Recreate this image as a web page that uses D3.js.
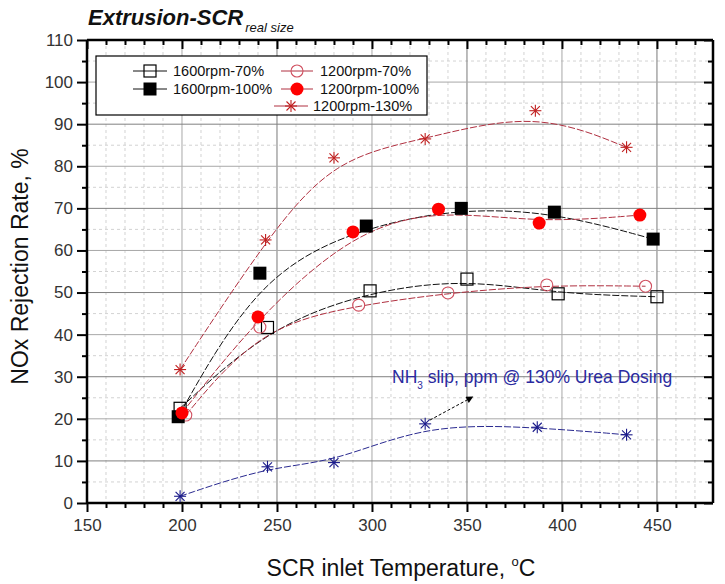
<!DOCTYPE html>
<html><head><meta charset="utf-8">
<script src="https://cdn.jsdelivr.net/npm/d3@7"></script>
<style>
body{margin:0;background:#fff;}
svg{display:block;font-family:Arial,"Liberation Sans",sans-serif;}
</style></head>
<body><svg id="c" width="725" height="584"></svg>
<script>
// ---- data ----
const xTickLabels = [150,200,250,300,350,400,450];
const yTickLabels = [0,10,20,30,40,50,60,70,80,90,100,110];

const t1600_70  = [199,245,299,350,398,450];
const v1600_70  = [22.5,41.7,50.4,53.2,49.7,49.0];
const t1200_70  = [202,241,293,340,392,444];
const v1200_70  = [20.9,41.8,47.0,49.9,51.8,51.5];
const t1600_100 = [198,241,297,347,396,448];
const v1600_100 = [20.5,54.6,65.8,70.0,69.1,62.7];
const t1200_100 = [200,240,290,335,388,441];
const v1200_100 = [21.4,44.2,64.4,69.8,66.5,68.4];
const t1200_130 = [199,244,280,328,386,434];
const v1200_130 = [31.7,62.5,82.0,86.5,93.2,84.5];
const tNH3      = [199,245,280,328,387,434];
const vNH3      = [1.6,8.6,9.6,18.8,18.0,16.2];

const seriesNames = ["1600rpm-70%","1200rpm-70%","1600rpm-100%","1200rpm-100%","1200rpm-130%"];

// ---- setup ----
const svg = d3.select("#c");
const L=87, R=713, T=40, B=503;
const x = d3.scaleLinear().domain([150,479.5]).range([L,R]);
const y = d3.scaleLinear().domain([0,110]).range([B,T]);

// grid
const g = svg.append("g");
d3.range(160,480,10).filter(v=>v%50!==0).forEach(v=>{
  g.append("line").attr("x1",x(v)).attr("x2",x(v)).attr("y1",T).attr("y2",B)
   .attr("stroke","#c8c8c8").attr("stroke-width",0.8).attr("stroke-dasharray","3,3");
});
d3.range(5,110,10).forEach(v=>{
  g.append("line").attr("x1",L).attr("x2",R).attr("y1",y(v)).attr("y2",y(v))
   .attr("stroke","#c8c8c8").attr("stroke-width",0.8).attr("stroke-dasharray","3,3");
});
[200,250,300,350,400,450].forEach(v=>{
  g.append("line").attr("x1",x(v)).attr("x2",x(v)).attr("y1",T).attr("y2",B)
   .attr("stroke", (v%100===50)?"#7a7a7a":"#a8a8a8").attr("stroke-width",1);
});
d3.range(10,110,10).forEach(v=>{
  g.append("line").attr("x1",L).attr("x2",R).attr("y1",y(v)).attr("y2",y(v))
   .attr("stroke", (v%20===10)?"#808080":"#a8a8a8").attr("stroke-width",1);
});

// axes
const tickFont = "17px";
const xAxis = d3.axisBottom(x).tickValues(d3.range(150,480,10)).tickSize(8)
  .tickFormat(d=> xTickLabels.includes(d)? d : "");
const gx = svg.append("g").attr("transform",`translate(0,${B})`).call(xAxis);
gx.selectAll(".tick line").attr("y2",d=>d%50===0?9:5).attr("stroke-width",2);
gx.select(".domain").attr("d",`M${L},0H${R}`).attr("stroke-width",2.5);
gx.selectAll("text").attr("font-size",tickFont).attr("fill","#333").attr("dy","1.0em").attr("font-family","Arial");

const yAxis = d3.axisLeft(y).tickValues(d3.range(0,111,5)).tickSize(9)
  .tickFormat(d=> yTickLabels.includes(d)? d : "");
const gy = svg.append("g").attr("transform",`translate(${L},0)`).call(yAxis);
gy.selectAll(".tick line").attr("x2",d=>d%10===0?-10:-5).attr("stroke-width",2);
gy.select(".domain").attr("d",`M0,${T}V${B}`).attr("stroke-width",2.5);
gy.selectAll("text").attr("font-size",tickFont).attr("fill","#333").attr("x",-14).attr("font-family","Arial");

const gt = svg.append("g").attr("transform",`translate(0,${T})`)
  .call(d3.axisBottom(x).tickValues(d3.range(150,480,10)).tickSize(0).tickFormat(""));
gt.selectAll(".tick line").attr("y2",d=>d%50===0?9:5).attr("stroke-width",2);
gt.select(".domain").attr("d",`M${L},0H${R}`).attr("stroke-width",2.5);

const gr = svg.append("g").attr("transform",`translate(${R},0)`)
  .call(d3.axisLeft(y).tickValues(d3.range(0,111,5)).tickSize(0).tickFormat(""));
gr.selectAll(".tick line").attr("x2",d=>d%10===0?9:5).attr("x1",0).attr("stroke-width",2)
  .attr("transform","scale(-1,1)");
gr.select(".domain").attr("d",`M0,${T}V${B}`).attr("stroke-width",2.5);

// curves
const line = d3.line().x(d=>x(d[0])).y(d=>y(d[1])).curve(d3.curveBasis);
const zip=(a,b)=>a.map((v,i)=>[v,b[i]]);
const series = [
  {name:seriesNames[0], pts:zip(t1600_70,v1600_70), lc:"#111", m:"sqOpen"},
  {name:seriesNames[1], pts:zip(t1200_70,v1200_70), lc:"#b03040", m:"cirOpen"},
  {name:seriesNames[2], pts:zip(t1600_100,v1600_100), lc:"#111", m:"sqFill"},
  {name:seriesNames[3], pts:zip(t1200_100,v1200_100), lc:"#b03040", m:"cirFill"},
  {name:seriesNames[4], pts:zip(t1200_130,v1200_130), lc:"#b03040", m:"star"},
];
const nh3 = {pts:zip(tNH3,vNH3), lc:"#2a2a90"};

const lg = svg.append("g");
series.concat([nh3]).forEach(s=>{
  lg.append("path").attr("d",line(s.pts)).attr("fill","none")
    .attr("stroke",s.lc).attr("stroke-width",1).attr("stroke-dasharray","7,2");
});

function marker(sel,type,cx,cy,col){
  const gg = sel.append("g").attr("transform",`translate(${cx},${cy})`);
  if(type==="sqOpen") gg.append("rect").attr("x",-6).attr("y",-6).attr("width",12).attr("height",12).attr("fill","#fff").attr("fill-opacity",0).attr("stroke","#000").attr("stroke-width",1.2);
  if(type==="sqFill") gg.append("rect").attr("x",-6.5).attr("y",-6.5).attr("width",13).attr("height",13).attr("fill","#000");
  if(type==="cirOpen") gg.append("circle").attr("r",6).attr("fill","none").attr("stroke","#d05060").attr("stroke-width",1.1);
  if(type==="cirFill") gg.append("circle").attr("r",6.5).attr("fill","#ff0000");
  if(type==="star"){
    const c = col||"#c02020";
    [[-6,0,6,0],[0,-6,0,6],[-4.5,-4.5,4.5,4.5],[-4.5,4.5,4.5,-4.5]].forEach(l=>{
      gg.append("line").attr("x1",l[0]).attr("y1",l[1]).attr("x2",l[2]).attr("y2",l[3]).attr("stroke",c).attr("stroke-width",1.1);
    });
  }
}
const mg = svg.append("g");
series.forEach(s=> s.pts.forEach(p=> marker(mg,s.m,x(p[0]),y(p[1]))));
nh3.pts.forEach(p=> marker(mg,"star",x(p[0]),y(p[1]),"#1a1a8a"));

// arrow annotation
const arrowFrom=[330.5,19.7], arrowTo=[353,25.2];
svg.append("defs").append("marker").attr("id","ah").attr("viewBox","0 0 10 10").attr("refX",9).attr("refY",5)
  .attr("markerWidth",9).attr("markerHeight",7).attr("orient","auto")
  .append("path").attr("d","M0,0L10,5L0,10Z").attr("fill","#000");
svg.append("line").attr("x1",x(arrowFrom[0])).attr("y1",y(arrowFrom[1])).attr("x2",x(arrowTo[0])).attr("y2",y(arrowTo[1]))
  .attr("stroke","#000").attr("stroke-width",1).attr("stroke-dasharray","3,2").attr("marker-end","url(#ah)");

const ann = svg.append("text").attr("x",392).attr("y",383).attr("fill","#2a2aa0").attr("font-size","17.5px");
ann.append("tspan").text("NH");
ann.append("tspan").attr("font-size","10px").attr("dy",6).text("3");
ann.append("tspan").attr("dy",-6).text(" slip, ppm @ 130% Urea Dosing");

// legend
const leg = svg.append("g");
leg.append("rect").attr("x",96).attr("y",56).attr("width",331).attr("height",59)
  .attr("fill","#fff").attr("stroke","#000").attr("stroke-width",1.2);
const legItems = [
  {s:series[0], lx:[133,167], mx:150, tx:173, ty:71},
  {s:series[1], lx:[281,313], mx:297, tx:320, ty:71},
  {s:series[2], lx:[133,167], mx:150, tx:173, ty:89},
  {s:series[3], lx:[281,313], mx:297, tx:320, ty:89},
  {s:series[4], lx:[274,308], mx:291, tx:313, ty:106},
];
legItems.forEach(it=>{
  leg.append("line").attr("x1",it.lx[0]).attr("x2",it.lx[1]).attr("y1",it.ty).attr("y2",it.ty)
    .attr("stroke",it.s.lc).attr("stroke-width",1);
  marker(leg,it.s.m,it.mx,it.ty);
  leg.append("text").attr("x",it.tx).attr("y",it.ty).attr("dy","0.35em").attr("font-size","14.5px").attr("fill","#111").text(it.s.name);
});

// titles
const tt = svg.append("text").attr("x",88).attr("y",25).attr("font-weight","bold").attr("font-style","italic").attr("font-size","22px").attr("fill","#111");
tt.append("tspan").text("Extrusion-SCR");
tt.append("tspan").attr("font-size","13px").attr("font-weight","normal").attr("dy",7).attr("dx",2).text("real size");

svg.append("text").attr("transform",`translate(28,${(T+B)/2-5}) rotate(-90)`).attr("text-anchor","middle")
  .attr("font-size","23px").attr("fill","#111").text("NOx Rejection Rate, %");

const xl = svg.append("text").attr("x",401).attr("y",576).attr("text-anchor","middle").attr("font-size","23px").attr("fill","#111");
xl.append("tspan").text("SCR inlet Temperature, ");
xl.append("tspan").attr("font-size","13px").attr("dy",-10).text("o");
xl.append("tspan").attr("dy",10).text("C");
</script></body></html>
